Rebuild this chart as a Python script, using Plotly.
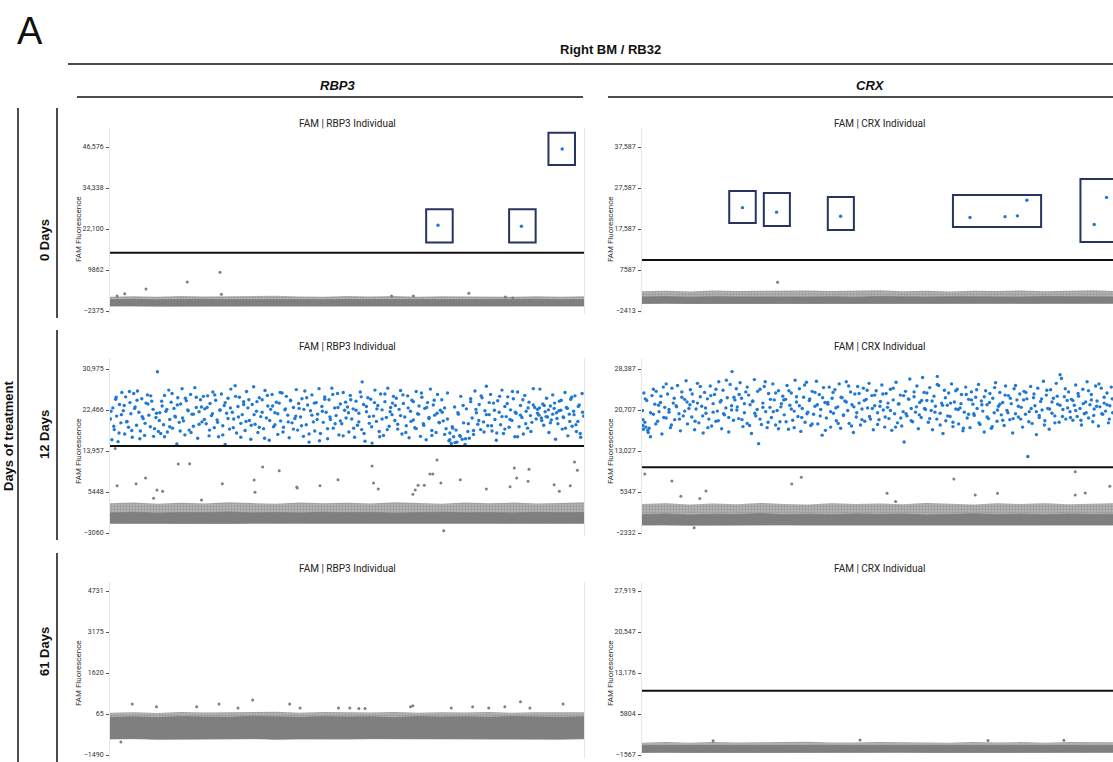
import plotly.graph_objects as go

W, H = 1113, 762

# ---------------- data ----------------
band_event = [0, 50, 100, 150, 200, 250, 300, 350, 400, 450, 500,
              550, 600, 650, 700, 750, 800, 850, 900, 950, 1000]

# negative-droplet cloud envelopes (RFU): dense bottom, dense top, sparse top
rbp3_d0_lo = [-900, -880, -920, -890, -870, -910, -900, -880, -930, -890, -900, -870, -910, -890, -920, -880, -900, -910, -870, -900, -890]
rbp3_d0_core = [1000, 1100, 950, 1050, 1120, 1000, 1060, 980, 1100, 1020, 1040, 1110, 990, 1070, 1020, 1090, 980, 1040, 1100, 1010, 1050]
rbp3_d0_fringe = [1900, 2000, 1850, 2100, 1950, 2000, 1900, 2150, 1950, 1900, 2100, 1950, 2100, 1900, 2000, 1950, 2100, 1900, 2050, 1900, 2000]

crx_d0_lo = [-560, -540, -570, -530, -550, -560, -540, -550, -570, -530, -550, -560, -540, -550, -530, -560, -550, -540, -560, -550, -540]
crx_d0_core = [1000, 1100, 950, 1080, 1020, 980, 1120, 1000, 1060, 950, 1100, 1030, 980, 1090, 1010, 1060, 990, 1100, 1020, 1070, 1000]
crx_d0_fringe = [2400, 2550, 2350, 2600, 2450, 2500, 2400, 2600, 2450, 2500, 2650, 2400, 2500, 2350, 2550, 2450, 2600, 2400, 2550, 2650, 2450]

rbp3_d12_lo = [-1050, -1020, -1060, -1030, -1040, -1070, -1020, -1050, -1040, -1060, -1030, -1050, -1020, -1060, -1040, -1030, -1050, -1070, -1020, -1040, -1050]
rbp3_d12_core = [1100, 1250, 1050, 1200, 1150, 1300, 1100, 1200, 1080, 1250, 1150, 1220, 1050, 1180, 1260, 1120, 1200, 1080, 1230, 1150, 1200]
rbp3_d12_fringe = [3100, 3250, 3000, 3200, 3050, 3300, 3150, 3000, 3250, 3100, 3200, 3050, 3300, 3100, 3000, 3250, 3100, 3250, 3050, 3150, 3300]

crx_d12_lo = [-850, -830, -860, -840, -850, -870, -830, -850, -840, -860, -830, -850, -840, -860, -850, -830, -850, -870, -840, -850, -840]
crx_d12_core = [1100, 1250, 1050, 1200, 1150, 1300, 1100, 1200, 1080, 1250, 1150, 1220, 1050, 1180, 1260, 1120, 1200, 1080, 1230, 1150, 1200]
crx_d12_fringe = [3100, 3250, 3000, 3200, 3050, 3300, 3100, 3000, 3250, 3100, 3200, 3050, 3300, 3100, 3000, 3250, 3100, 3250, 3050, 3150, 3250]

rbp3_d61_lo = [-880, -870, -890, -875, -885, -880, -870, -890, -880, -875, -885, -870, -880, -890, -875, -880, -885, -870, -880, -890, -875]
rbp3_d61_core = [-60, -40, -70, -30, -50, -60, -20, -40, -60, -30, -50, -40, -70, -30, -50, -40, -60, -30, -50, -60, -40]
rbp3_d61_fringe = [110, 130, 100, 140, 120, 130, 120, 150, 110, 140, 130, 120, 140, 110, 130, 120, 140, 110, 130, 120, 130]

crx_d61_lo = [-1100, -1090, -1110, -1095, -1105, -1100, -1090, -1110, -1100, -1095, -1105, -1090, -1100, -1110, -1095, -1100, -1105, -1090, -1100, -1110, -1095]
crx_d61_core = [120, 160, 100, 150, 130, 170, 110, 140, 160, 120, 150, 130, 100, 160, 140, 120, 170, 130, 150, 110, 140]
crx_d61_fringe = [650, 750, 620, 780, 680, 720, 650, 800, 700, 660, 760, 690, 730, 640, 780, 690, 750, 650, 770, 680, 720]

# individual droplets: event number and FAM amplitude (RFU)
rbp3_d0_pos_event = [692, 868, 954]
rbp3_d0_pos_rfu = [23200, 22900, 46000]
rbp3_d0_neg_event = [15, 31, 76, 163, 232, 235, 594, 640, 757, 834, 850]
rbp3_d0_neg_rfu = [2100, 2800, 4190, 6280, 9180, 2610, 2100, 2100, 2900, 1800, 1500]

crx_d0_pos_event = [212, 284, 419, 692, 766, 792, 812, 954, 980]
crx_d0_pos_rfu = [22800, 21700, 20700, 20400, 20600, 20800, 24600, 18700, 25300]
crx_d0_neg_event = [286]
crx_d0_neg_rfu = [4590]

# gates drawn round positive droplets (event0, event1, rfu0, rfu1)
rbp3_d0_gates = [(667, 723, 18100, 28000), (842, 898, 18100, 28000), (925, 981, 41200, 50800)]
crx_d0_gates = [(184, 240, 19050, 26850), (257, 312, 18320, 26370), (392, 447, 17340, 25390),
                (656, 842, 18080, 25880), (925, 1030, 14420, 29780)]

rbp3_d12_pos_event = [
    1, 4, 6, 9, 12, 14, 17, 20, 23, 25, 28, 31, 33, 36, 39, 42, 44, 47, 50, 53, 56, 58, 61, 64, 67, 70, 73, 76, 79, 82, 85, 88, 91, 94, 97,
    100, 102, 105, 107, 110, 113, 115, 118, 121, 124, 126, 129, 132, 135, 138, 141, 143, 146, 149, 152, 155, 158, 161, 164, 167, 170, 173, 176, 179, 182, 185, 188, 191, 194, 197,
    200, 203, 206, 209, 211, 214, 217, 220, 223, 226, 229, 232, 235, 238, 241, 243, 246, 249, 252, 255, 258, 261, 264, 267, 270, 273, 276, 279, 282, 285, 288, 291, 294, 297,
    300, 303, 306, 309, 312, 315, 318, 321, 324, 327, 330, 333, 336, 339, 342, 345, 348, 351, 354, 357, 360, 363, 366, 369, 372, 375, 378, 381, 384, 387, 390, 393, 396, 399,
    402, 405, 408, 411, 414, 417, 420, 423, 426, 429, 432, 435, 438, 441, 444, 447, 450, 453, 456, 459, 462, 465, 468, 471, 474, 477, 480, 483, 486, 489, 492, 495, 498,
    501, 504, 507, 510, 513, 516, 519, 522, 525, 528, 531, 532, 535, 538, 541, 544, 547, 550, 553, 556, 559, 562, 565, 568, 571, 574, 577, 580, 583, 586, 589, 592, 595, 598,
    601, 604, 607, 610, 613, 616, 619, 622, 625, 628, 631, 634, 637, 640, 643, 646, 649, 652, 655, 658, 661, 664, 667, 670, 673, 676, 679, 682, 685, 688, 691, 694, 697,
    700, 703, 706, 709, 712, 715, 717, 720, 722, 725, 727, 730, 732, 735, 738, 740, 743, 746, 749, 752, 755, 758, 761, 764, 767, 770, 773, 776, 779, 782, 785, 788, 791, 794, 797,
    800, 803, 806, 809, 812, 815, 818, 821, 824, 827, 830, 833, 836, 839, 842, 845, 848, 851, 854, 857, 860, 863, 866, 869, 872, 875, 878, 881, 884, 887, 890, 893, 896, 899,
    902, 905, 907, 910, 913, 915, 918, 921, 923, 926, 929, 931, 934, 937, 940, 942, 945, 948, 951, 954, 957, 960, 963, 966, 969, 972, 975, 978, 981, 984, 987, 990, 993, 996, 999,
    2, 8, 13, 19, 24, 30, 35, 41, 46, 52, 57, 63, 68, 74, 80, 86, 92, 98,
    104, 109, 115, 120, 126, 131, 137, 142, 148, 153, 159, 165, 171, 176, 182, 188, 193, 199,
    205, 210, 216, 221, 227, 232, 238, 243, 249, 254, 260, 265, 271, 276, 282, 287, 293, 298,
    304, 310, 315, 321, 326, 332, 337, 343, 348, 354, 359, 365, 370, 376, 381, 387, 392, 398,
    404, 409, 415, 420, 426, 431, 437, 442, 448, 453, 459, 464, 470, 475, 481, 486, 492, 497,
    503, 508, 514, 519, 525, 530, 536, 541, 547, 552, 558, 563, 569, 574, 580, 585, 591, 596,
    602, 607, 613, 618, 624, 629, 635, 640, 646, 651, 657, 662, 668, 673, 679, 684, 690, 695,
    701, 706, 712, 717, 723, 728, 734, 739, 745, 750, 756, 761, 767, 772, 778, 783, 789, 794,
    800, 805, 811, 816, 822, 827, 833, 838, 844, 849, 855, 860, 866, 871, 877, 882, 888, 893,
    902, 906, 911, 916, 920, 925, 929, 934, 938, 943, 947, 952, 956, 961, 965, 970, 974, 979, 983, 988, 992, 997]
rbp3_d12_pos_krfu = [
    20.6, 16.3, 22.9, 18.4, 24.7, 21.2, 15.9, 23.6, 19.8, 26.1, 22.3, 17.5, 25.2, 20.1, 18.9, 24.0, 21.7, 16.8, 25.9, 23.1, 19.3, 26.4, 22.0, 18.1, 24.8, 20.7, 17.2, 23.9, 25.6, 21.4, 19.0, 24.3, 22.6, 18.6, 20.9,
    30.4, 18.0, 21.9, 17.6, 23.3, 19.4, 25.5, 22.2, 17.9, 26.6, 20.5, 24.1, 18.7, 22.8, 21.0, 15.4, 25.0, 19.9, 23.7, 26.9, 20.2, 17.3, 24.4, 22.5, 18.3, 25.7, 21.6, 19.1, 27.1, 23.0, 16.6, 22.1, 24.6, 20.0, 25.3,
    22.7, 19.6, 25.4, 17.1, 23.8, 21.3, 26.2, 18.8, 24.5, 20.4, 16.9, 22.4, 25.8, 19.2, 23.4, 15.3, 21.8, 24.9, 18.5, 26.8, 22.0, 20.6, 27.5, 17.7, 23.2, 25.1, 19.7, 21.5, 24.2, 18.2, 26.3, 22.9, 20.3, 16.4,
    23.6, 27.3, 19.5, 22.2, 17.8, 25.0, 21.1, 24.6, 18.6, 26.5, 20.8, 23.3, 16.2, 22.6, 25.7, 19.0, 21.9, 24.1, 17.4, 23.9, 20.2, 26.0, 18.9, 22.5, 25.3, 21.4, 16.7, 24.4, 19.8, 23.0, 20.7, 26.7, 18.3, 22.8,
    21.0, 24.8, 17.0, 26.4, 19.4, 23.5, 15.8, 22.3, 25.6, 20.0, 18.1, 24.0, 21.6, 26.9, 17.6, 23.2, 19.9, 25.2, 22.0, 16.5, 24.6, 20.5, 27.0, 18.7, 22.9, 21.3, 25.9, 17.3, 23.7, 19.6, 26.1, 22.4, 20.8,
    23.1, 17.9, 25.5, 20.6, 22.7, 16.8, 24.3, 19.3, 21.8, 26.2, 18.4, 28.3, 23.6, 16.0, 22.1, 25.0, 19.7, 24.7, 15.6, 21.2, 26.6, 20.1, 23.4, 18.0, 25.8, 22.5, 17.2, 24.2, 20.9, 27.0, 19.1, 23.0, 21.5, 25.3,
    20.3, 24.9, 18.5, 22.6, 26.5, 17.5, 23.8, 21.0, 19.2, 25.4, 16.7, 22.2, 24.5, 20.4, 18.8, 26.3, 21.7, 23.3, 17.0, 25.1, 19.6, 22.8, 16.3, 24.0, 20.7, 26.8, 18.2, 23.5, 21.4, 17.8, 25.7, 19.9, 22.4,
    24.6, 20.2, 22.9, 18.6, 26.0, 16.1, 17.7, 15.5, 19.0, 16.9, 23.1, 18.3, 15.8, 21.6, 17.2, 25.3, 16.4, 19.8, 15.3, 22.7, 18.0, 16.6, 24.2, 20.8, 17.4, 26.4, 21.9, 19.5, 23.6, 18.4, 25.0, 20.0, 22.3, 27.4, 19.2,
    21.5, 25.7, 18.1, 23.9, 20.5, 16.2, 24.4, 22.0, 19.4, 26.6, 17.6, 23.2, 21.1, 25.2, 18.9, 22.5, 20.3, 24.8, 16.9, 21.8, 26.2, 19.0, 23.4, 20.9, 17.5, 25.5, 22.2, 18.7, 24.1, 21.3, 19.9, 26.9, 23.0, 20.6,
    22.6, 21.4, 26.8, 20.8, 23.7, 19.3, 22.1, 24.9, 21.0, 17.8, 23.3, 20.4, 25.6, 22.8, 16.4, 21.9, 19.6, 24.3, 22.4, 18.5, 20.9, 26.1, 23.0, 17.1, 21.6, 24.7, 19.1, 22.2, 25.4, 18.0, 20.1, 23.5, 16.8, 25.9, 21.2,
    22.2, 19.1, 25.1, 17.7, 21.5, 23.4, 20.0, 26.3, 18.2, 22.8, 24.5, 16.5, 21.1, 19.7, 23.7, 25.4, 17.0, 21.8,
    20.3, 24.3, 16.9, 22.6, 19.0, 25.9, 21.2, 23.5, 18.1, 20.8, 24.9, 22.3, 17.8, 21.6, 25.1, 19.5, 23.1, 20.5,
    23.0, 18.3, 21.7, 25.6, 19.9, 22.5, 17.3, 24.0, 20.7, 22.9, 18.8, 25.3, 21.0, 16.8, 23.6, 20.1, 24.6, 19.3,
    21.5, 24.2, 18.9, 22.0, 16.6, 25.5, 20.3, 23.3, 19.4, 21.7, 26.1, 17.9, 22.7, 20.0, 24.5, 18.5, 21.2, 23.8,
    19.2, 22.6, 25.0, 17.5, 21.4, 23.9, 20.5, 16.1, 22.2, 24.7, 18.6, 21.0, 25.7, 19.6, 23.0, 20.2, 17.1, 24.1,
    21.9, 24.6, 18.7, 22.4, 20.0, 25.2, 17.6, 23.2, 21.1, 19.0, 24.0, 22.7, 16.9, 20.6, 25.8, 18.4, 22.1, 23.9,
    23.4, 19.5, 21.3, 25.6, 17.8, 22.9, 20.1, 24.2, 18.6, 21.6, 26.0, 19.3, 23.0, 20.9, 17.2, 24.5, 21.8, 19.8,
    22.0, 17.4, 20.6, 16.3, 18.7, 15.7, 21.9, 17.0, 23.4, 16.5, 19.6, 24.8, 18.2, 22.6, 20.3, 25.4, 17.9, 21.5,
    24.0, 19.2, 22.4, 17.7, 25.3, 21.1, 18.5, 23.8, 20.5, 26.3, 22.0, 16.9, 21.4, 24.6, 19.6, 22.9, 18.0, 23.5,
    21.8, 22.9, 20.3, 23.4, 21.1, 22.5, 19.8, 21.6, 23.9, 20.7, 22.3, 24.5, 21.0, 18.7, 22.8, 20.1, 25.1, 21.5, 19.4, 23.2, 17.6, 22.0]
rbp3_d12_neg_event = [11, 15, 55, 75, 92, 99, 111, 144, 168, 193, 237, 304, 306, 322, 357, 394, 395, 443, 481, 553,
                      556, 566, 639, 644, 650, 663, 675, 681, 690, 698, 704, 739, 794, 844, 853, 858, 882, 884, 937, 948,
                      971, 980, 986]
rbp3_d12_neg_rfu = [14500, 6760, 7175, 8360, 4140, 5860, 5590, 11260, 11330, 3810, 7175, 7940, 5390, 10640, 9870, 6490, 6300, 6760, 8000, 10850,
                    7300, 6060, 4970, 5860, 6830, 6830, 9190, 9190, 12090, 7300, -2590, 8000, 6060, 6550, 10430, 8360, 7660, 10160, 6970, 5590,
                    6760, 11680, 9960]

crx_d12_pos_event = [
    1, 2, 3, 4, 6, 8, 10, 12, 15, 18, 21, 24, 27, 30, 33, 36, 39, 42, 45, 48, 51, 54, 57, 60, 63, 66, 69, 72, 75, 78, 81, 84, 87, 90, 93, 96, 99,
    102, 105, 108, 111, 114, 117, 120, 123, 126, 129, 132, 135, 138, 141, 144, 147, 150, 153, 156, 159, 162, 165, 168, 171, 174, 177, 180, 183, 186, 189, 190, 193, 196, 199,
    201, 204, 207, 210, 213, 216, 219, 222, 225, 228, 231, 234, 237, 240, 243, 246, 249, 252, 255, 258, 261, 264, 267, 270, 273, 276, 279, 282, 285, 288, 291, 294, 297,
    300, 303, 306, 309, 312, 315, 318, 321, 323, 326, 329, 332, 335, 338, 341, 344, 347, 350, 353, 356, 359, 362, 365, 368, 371, 374, 377, 380, 383, 386, 389, 392, 395, 398,
    401, 404, 407, 410, 413, 416, 419, 422, 425, 428, 431, 434, 437, 440, 443, 446, 449, 452, 455, 458, 461, 464, 467, 470, 473, 476, 479, 482, 485, 488, 491, 494, 497,
    500, 503, 506, 509, 512, 515, 518, 521, 524, 527, 530, 533, 536, 539, 542, 545, 548, 551, 553, 556, 559, 562, 565, 568, 571, 574, 577, 580, 583, 586, 589, 592, 595, 598,
    601, 604, 607, 610, 613, 616, 619, 622, 623, 626, 629, 632, 635, 638, 641, 644, 647, 650, 653, 656, 659, 662, 665, 668, 671, 674, 677, 680, 683, 686, 689, 692, 695, 698,
    701, 704, 707, 710, 713, 716, 719, 722, 725, 728, 731, 734, 737, 740, 743, 746, 749, 752, 755, 758, 761, 764, 767, 770, 773, 776, 779, 782, 785, 788, 791, 794, 797,
    800, 803, 806, 809, 812, 814, 817, 820, 823, 826, 829, 832, 835, 838, 841, 844, 847, 850, 853, 856, 859, 862, 865, 868, 871, 874, 877, 880, 882, 885, 888, 891, 894, 897,
    900, 903, 906, 909, 912, 915, 918, 921, 924, 927, 930, 933, 936, 939, 942, 945, 948, 951, 954, 957, 960, 963, 966, 969, 972, 975, 978, 981, 984, 987, 990, 993,
    2, 7, 13, 18, 24, 29, 35, 40, 46, 51, 57, 62, 68, 73, 79, 84, 90, 95,
    101, 106, 112, 117, 123, 128, 134, 139, 145, 150, 156, 161, 167, 172, 178, 183, 189, 194,
    200, 205, 211, 216, 222, 227, 233, 238, 244, 249, 255, 260, 266, 271, 277, 282, 288, 293,
    299, 304, 310, 315, 321, 326, 332, 337, 343, 348, 354, 359, 365, 370, 376, 381, 387, 392,
    398, 403, 409, 414, 420, 425, 431, 436, 442, 447, 453, 458, 464, 469, 475, 480, 486, 491,
    497, 502, 508, 513, 519, 524, 530, 535, 541, 546, 552, 557, 563, 568, 574, 579, 585, 590,
    596, 601, 607, 612, 618, 623, 629, 634, 640, 645, 651, 656, 662, 667, 673, 678, 684, 689,
    695, 700, 706, 711, 717, 722, 728, 733, 739, 744, 750, 755, 761, 766, 772, 777, 783, 788,
    794, 799, 805, 810, 816, 821, 827, 832, 838, 843, 849, 854, 860, 865, 871, 876, 882, 887,
    893, 898, 904, 909, 915, 920, 926, 931, 937, 942, 948, 953, 959, 964, 970, 975, 981, 986, 992]
crx_d12_pos_krfu = [
    20.6, 17.8, 17.1, 23.9, 18.4, 17.5, 22.5, 16.9, 17.3, 15.7, 23.4, 19.9, 21.8, 24.2, 18.6, 20.4, 22.1, 16.2, 25.0, 21.2, 19.2, 23.7, 20.3, 17.4, 24.8, 22.0, 18.9, 21.5, 25.3, 20.0, 16.8, 23.1, 19.6, 22.7, 26.2, 18.1, 21.0,
    24.5, 19.4, 22.3, 17.0, 20.9, 25.7, 18.3, 23.2, 21.4, 16.4, 24.0, 20.1, 22.8, 19.0, 25.2, 17.7, 21.9, 23.6, 18.6, 20.5, 26.0, 22.2, 17.2, 24.4, 19.8, 21.1, 23.0, 16.6, 25.5, 20.7, 27.9, 18.8, 22.6, 24.7,
    21.3, 19.1, 25.8, 22.9, 17.6, 20.2, 24.1, 18.2, 23.5, 21.7, 16.3, 22.4, 26.4, 19.6, 20.8, 14.4, 24.6, 18.0, 22.0, 25.1, 20.4, 17.4, 23.8, 21.2, 19.3, 25.6, 22.6, 17.9, 20.6, 24.3, 18.5, 21.9, 23.3,
    19.8, 22.7, 25.3, 17.1, 21.6, 23.9, 18.8, 20.5, 26.3, 22.2, 19.5, 24.7, 16.7, 21.0, 23.1, 18.4, 25.9, 20.3, 22.5, 17.8, 24.2, 19.9, 21.4, 26.1, 18.1, 23.6, 20.8, 16.0, 24.9, 22.1, 19.2, 21.8, 25.0, 17.5,
    22.9, 20.1, 24.5, 18.7, 21.3, 25.6, 17.3, 23.0, 19.7, 22.4, 26.0, 20.6, 18.2, 24.1, 21.7, 16.5, 23.7, 19.4, 25.1, 22.0, 17.9, 20.9, 24.8, 18.6, 22.7, 21.1, 25.7, 19.0, 23.4, 17.0, 21.5, 24.3, 20.2,
    18.9, 22.3, 25.4, 20.7, 17.5, 23.8, 21.2, 19.1, 24.6, 16.9, 22.6, 20.0, 25.9, 18.3, 21.9, 23.5, 17.7, 20.4, 14.7, 24.2, 19.6, 22.8, 26.5, 21.0, 18.5, 23.2, 20.3, 25.2, 17.2, 22.1, 19.3, 26.8, 24.0, 20.8,
    22.5, 18.4, 24.9, 20.6, 17.0, 23.3, 21.4, 19.0, 27.0, 25.3, 20.1, 22.0, 16.3, 24.4, 18.7, 21.6, 23.9, 19.5, 25.6, 17.6, 22.2, 20.9, 24.6, 18.1, 21.1, 23.6, 16.8, 20.3, 25.0, 19.2, 22.7, 17.4, 24.1, 21.8,
    19.7, 23.1, 21.0, 25.5, 18.0, 22.4, 20.5, 16.6, 24.3, 21.7, 19.1, 23.8, 17.3, 22.9, 20.2, 25.8, 18.6, 21.4, 24.0, 19.8, 22.1, 17.8, 25.2, 20.6, 23.4, 18.9, 21.9, 16.4, 24.7, 20.0, 22.6, 19.4, 23.7,
    21.2, 17.5, 24.2, 19.9, 22.8, 12.0, 20.4, 25.1, 18.2, 23.0, 21.5, 16.1, 24.8, 19.3, 22.3, 20.7, 26.1, 18.7, 23.5, 21.0, 17.1, 24.5, 20.1, 22.9, 19.6, 25.7, 21.8, 18.4, 27.3, 26.6, 20.8, 23.2, 19.0, 22.5,
    24.1, 20.4, 22.7, 18.8, 21.6, 25.4, 19.5, 23.3, 21.0, 17.9, 24.6, 20.0, 22.2, 26.0, 19.2, 21.7, 23.6, 18.5, 20.9, 25.2, 22.4, 17.7, 21.3, 24.8, 19.9, 22.0, 20.5, 23.9, 18.3, 21.5, 25.0, 20.2,
    18.9, 22.8, 16.5, 20.2, 24.6, 18.1, 21.6, 23.3, 19.3, 25.6, 20.8, 17.9, 22.9, 21.3, 19.0, 24.1, 20.5, 22.2,
    21.7, 23.7, 18.6, 22.0, 25.1, 19.6, 21.1, 17.4, 23.4, 20.3, 24.6, 18.7, 22.5, 20.0, 26.3, 19.3, 21.5, 23.1,
    20.7, 23.6, 18.9, 21.9, 25.0, 17.8, 22.3, 20.1, 24.2, 19.0, 21.2, 26.0, 18.4, 22.7, 20.4, 23.9, 17.2, 21.3,
    22.6, 18.5, 24.3, 20.9, 17.4, 23.2, 21.5, 19.3, 25.4, 20.0, 22.8, 18.1, 24.0, 21.7, 19.6, 23.0, 16.9, 22.1,
    20.4, 24.0, 21.1, 18.2, 23.1, 19.8, 22.2, 25.2, 17.7, 21.3, 20.2, 23.8, 18.9, 22.5, 24.4, 19.5, 21.0, 23.5,
    18.0, 21.4, 23.7, 19.4, 22.0, 20.6, 24.8, 17.5, 21.8, 19.2, 23.4, 20.0, 22.7, 18.7, 24.1, 21.3, 19.8, 22.5,
    21.0, 23.9, 19.1, 22.4, 20.3, 25.5, 17.9, 21.6, 23.0, 19.6, 22.0, 18.4, 24.3, 20.8, 21.9, 17.3, 23.6, 19.9,
    22.6, 20.0, 24.5, 18.3, 21.7, 23.2, 19.4, 22.1, 17.6, 24.9, 20.7, 21.8, 18.8, 23.5, 20.2, 22.9, 19.1, 25.3,
    21.4, 19.0, 22.6, 24.0, 18.5, 21.0, 23.7, 20.4, 19.7, 22.8, 17.9, 24.4, 20.9, 22.2, 18.3, 23.3, 21.6, 19.5,
    24.7, 21.1, 19.3, 22.5, 20.6, 23.8, 18.8, 21.9, 20.2, 24.3, 22.6, 19.7, 21.4, 25.6, 20.0, 23.1, 21.7, 19.0, 22.8]
crx_d12_neg_event = [6, 63, 82, 110, 122, 135, 316, 336, 517, 535, 658, 703, 750, 914, 914, 935, 987]
crx_d12_neg_rfu = [8720, 7400, 4540, -1340, 4110, 5550, 6860, 8110, 5120, 3550, 7790, 4790, 5100, 9150, 4790, 5170, 6420]

rbp3_d61_neg_event = [23, 47, 98, 183, 230, 270, 301, 379, 401, 482, 506, 525, 538, 634, 639, 720, 765, 799, 833, 866, 886, 956]
rbp3_d61_neg_rfu = [-1000, 444, 342, 342, 444, 292, 596, 444, 292, 292, 292, 270, 270, 342, 380, 292, 342, 292, 342, 531, 292, 444]

crx_d61_neg_event = [150, 460, 730, 890]
crx_d61_neg_rfu = [1000, 1150, 1050, 1100]

# axis ticks
rbp3_d0_tickvals = [-2375, 9862, 22100, 34338, 46576]
rbp3_d0_ticktext = ["\u22122375", "9862", "22,100", "34,338", "46,576"]
crx_d0_tickvals = [-2413, 7587, 17587, 27587, 37587]
crx_d0_ticktext = ["\u22122413", "7587", "17,587", "27,587", "37,587"]
rbp3_d12_tickvals = [-3060, 5448, 13957, 22466, 30975]
rbp3_d12_ticktext = ["\u22123060", "5448", "13,957", "22,466", "30,975"]
crx_d12_tickvals = [-2332, 5347, 13027, 20707, 28387]
crx_d12_ticktext = ["\u22122332", "5347", "13,027", "20,707", "28,387"]
rbp3_d61_tickvals = [-1490, 65, 1620, 3175, 4731]
rbp3_d61_ticktext = ["\u22121490", "65", "1620", "3175", "4731"]
crx_d61_tickvals = [-1567, 5804, 13176, 20547, 27919]
crx_d61_ticktext = ["\u22121567", "5804", "13,176", "20,547", "27,919"]

rbp3_threshold = 15000
crx_threshold = 10000

genes = ["RBP3", "CRX"]
days = ["0 Days", "12 Days", "61 Days"]

# ---------------- layout helpers ----------------
BLUE = "#1f78d2"
GREY = "#7f7f7f"
NAVY = "#26355f"
FONT = "Roboto"
HEAD = "Liberation Sans, Arial, sans-serif"

def px(x):
    return x / W

def py(y):
    return 1 - y / H

col_px = [(110, 584), (642, 1116)]
row_tick_px = [(147, 311), (369, 533), (591, 755)]
row_plot_px = [(128, 314), (358, 536), (582, 758)]

panels = [
    dict(r=0, c=0, lo=rbp3_d0_lo, core=rbp3_d0_core, fringe=rbp3_d0_fringe,
         pe=rbp3_d0_pos_event, pv=rbp3_d0_pos_rfu, ne=rbp3_d0_neg_event, nv=rbp3_d0_neg_rfu,
         tv=rbp3_d0_tickvals, tt=rbp3_d0_ticktext, thr=rbp3_threshold, gates=rbp3_d0_gates),
    dict(r=0, c=1, lo=crx_d0_lo, core=crx_d0_core, fringe=crx_d0_fringe,
         pe=crx_d0_pos_event, pv=crx_d0_pos_rfu, ne=crx_d0_neg_event, nv=crx_d0_neg_rfu,
         tv=crx_d0_tickvals, tt=crx_d0_ticktext, thr=crx_threshold, gates=crx_d0_gates),
    dict(r=1, c=0, lo=rbp3_d12_lo, core=rbp3_d12_core, fringe=rbp3_d12_fringe,
         pe=rbp3_d12_pos_event, pv=[k * 1000 for k in rbp3_d12_pos_krfu], ne=rbp3_d12_neg_event, nv=rbp3_d12_neg_rfu,
         tv=rbp3_d12_tickvals, tt=rbp3_d12_ticktext, thr=rbp3_threshold, gates=[]),
    dict(r=1, c=1, lo=crx_d12_lo, core=crx_d12_core, fringe=crx_d12_fringe,
         pe=crx_d12_pos_event, pv=[k * 1000 for k in crx_d12_pos_krfu], ne=crx_d12_neg_event, nv=crx_d12_neg_rfu,
         tv=crx_d12_tickvals, tt=crx_d12_ticktext, thr=crx_threshold, gates=[]),
    dict(r=2, c=0, lo=rbp3_d61_lo, core=rbp3_d61_core, fringe=rbp3_d61_fringe,
         pe=[], pv=[], ne=rbp3_d61_neg_event, nv=rbp3_d61_neg_rfu,
         tv=rbp3_d61_tickvals, tt=rbp3_d61_ticktext, thr=rbp3_threshold, gates=[]),
    dict(r=2, c=1, lo=crx_d61_lo, core=crx_d61_core, fringe=crx_d61_fringe,
         pe=[], pv=[], ne=crx_d61_neg_event, nv=crx_d61_neg_rfu,
         tv=crx_d61_tickvals, tt=crx_d61_ticktext, thr=crx_threshold, gates=[]),
]

fig = go.Figure()
layout = dict(width=W, height=H, margin=dict(l=0, r=0, t=0, b=0), autosize=False,
              paper_bgcolor="white", plot_bgcolor="white", showlegend=False)
shapes = []
annotations = []

EVENT_SPAN = 1000.0

for i, p in enumerate(panels, start=1):
    xa = "x" if i == 1 else f"x{i}"
    ya = "y" if i == 1 else f"y{i}"
    xkey = "xaxis" if i == 1 else f"xaxis{i}"
    ykey = "yaxis" if i == 1 else f"yaxis{i}"
    c0, c1 = col_px[p["c"]]
    t0, t1 = row_tick_px[p["r"]]
    top, bot = row_plot_px[p["r"]]
    vmin, vmax = p["tv"][0], p["tv"][-1]
    per = (vmax - vmin) / (t1 - t0)
    yr = [vmin - (bot - t1) * per, vmax + (t0 - top) * per]
    right_px = min(c1, W)
    xr = [0, EVENT_SPAN * (right_px - c0) / (c1 - c0)]
    layout[xkey] = dict(domain=[px(c0), px(right_px)], range=xr, anchor=ya,
                        showgrid=False, zeroline=False, showline=False,
                        showticklabels=False, ticks="")
    layout[ykey] = dict(domain=[py(bot), py(top)], range=yr, anchor=xa,
                        showgrid=False, zeroline=False, showline=True, mirror=True,
                        linecolor="#e6e6e6", linewidth=1,
                        ticks="outside", ticklen=3, tickcolor="#555", tickwidth=1,
                        ticklabelstandoff=1,
                        tickvals=p["tv"], ticktext=p["tt"],
                        tickfont=dict(family=FONT, size=7, color="#333"))

    # sparse fringe of negative cloud
    fig.add_trace(go.Scatter(
        x=band_event + band_event[::-1], y=p["fringe"] + p["lo"][::-1],
        xaxis=xa, yaxis=ya, mode="lines", line=dict(width=0), fill="toself",
        fillcolor="rgba(128,128,128,0.5)",
        fillpattern=dict(shape=".", size=3, solidity=0.75, fgcolor="#777777",
                         bgcolor="rgba(128,128,128,0.45)"),
        hoverinfo="skip"))
    # dense core of negative cloud
    fig.add_trace(go.Scatter(
        x=band_event + band_event[::-1], y=p["core"] + p["lo"][::-1],
        xaxis=xa, yaxis=ya, mode="lines", line=dict(width=0.8, color=GREY), fill="toself",
        fillcolor=GREY, hoverinfo="skip"))
    if p["ne"]:
        fig.add_trace(go.Scatter(x=p["ne"], y=p["nv"], xaxis=xa, yaxis=ya, mode="markers",
                                 marker=dict(size=3, color=GREY, line=dict(width=0))))
    if p["pe"]:
        fig.add_trace(go.Scatter(x=p["pe"], y=p["pv"], xaxis=xa, yaxis=ya, mode="markers",
                                 marker=dict(size=3.4, color=BLUE, line=dict(width=0))))
    if yr[0] <= p["thr"] <= yr[1]:
        shapes.append(dict(type="line", xref=f"{xa} domain", yref=ya, x0=0, x1=1,
                           y0=p["thr"], y1=p["thr"], line=dict(color="#111", width=2)))
    for g in p["gates"]:
        shapes.append(dict(type="rect", xref=xa, yref=ya, x0=g[0], x1=g[1], y0=g[2], y1=g[3],
                           line=dict(color=NAVY, width=2), fillcolor="rgba(0,0,0,0)"))

    gene = genes[p["c"]]
    annotations.append(dict(text=f"FAM | {gene} Individual", xref="paper", yref="paper",
                            x=px((c0 + c1) / 2), y=py(t0 - 23), showarrow=False,
                            xanchor="center", yanchor="middle",
                            font=dict(family=FONT, size=10, color="#222")))
    annotations.append(dict(text="FAM Fluorescence", xref="paper", yref="paper",
                            x=px(c0 - 32), y=py((t0 + t1) / 2), showarrow=False, textangle=-90,
                            xanchor="center", yanchor="middle",
                            font=dict(family=FONT, size=8, color="#333")))

# headers
annotations += [
    dict(text="A", x=px(30), y=py(31), font=dict(family=HEAD, size=38, color="#111")),
    dict(text="<b>Right BM / RB32</b>", x=px(610), y=py(50), font=dict(family=HEAD, size=13, color="#111")),
    dict(text="<b><i>RBP3</i></b>", x=px(337), y=py(86), font=dict(family=HEAD, size=13, color="#111")),
    dict(text="<b><i>CRX</i></b>", x=px(870), y=py(86), font=dict(family=HEAD, size=13, color="#111")),
    dict(text="<b>Days of treatment</b>", x=px(8), y=py(436), textangle=-90,
         font=dict(family=HEAD, size=13, color="#111")),
]
for d, yc in zip(days, [240, 435, 652]):
    annotations.append(dict(text=f"<b>{d}</b>", x=px(44), y=py(yc), textangle=-90,
                            font=dict(family=HEAD, size=13, color="#111")))
for a in annotations:
    a.setdefault("xref", "paper")
    a.setdefault("yref", "paper")
    a.setdefault("showarrow", False)
    a.setdefault("xanchor", "center")
    a.setdefault("yanchor", "middle")

line_style = dict(color="#111", width=1.5)
for (x0, y0, x1, y1) in [(68, 64, 1113, 64), (77, 97, 583, 97), (608, 97, 1113, 97),
                         (18, 108, 18, 762), (57, 108, 57, 318), (57, 330, 57, 540), (57, 553, 57, 762)]:
    shapes.append(dict(type="line", xref="paper", yref="paper", x0=px(x0), x1=px(x1),
                       y0=py(y0), y1=py(y1), line=line_style))

layout["shapes"] = shapes
layout["annotations"] = annotations
fig.update_layout(**layout)
fig.write_html("out.html")
